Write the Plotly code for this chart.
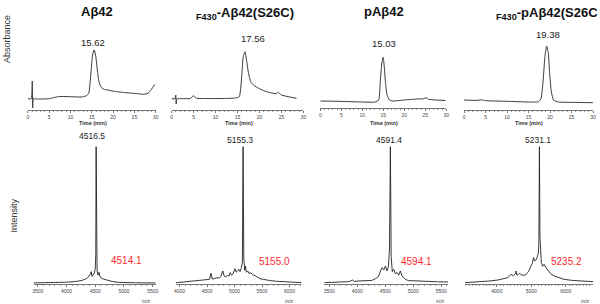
import plotly.graph_objects as go

# ---------------- HPLC data (time in min, absorbance in arbitrary units) -------------
hplc1_t = [0, 0.8, 1.05, 1.15, 1.3, 1.6, 2.5, 4, 5, 6, 7, 8, 10, 12, 13, 13.8, 14.3, 14.8, 15.2, 15.55, 15.9, 16.3, 16.7, 17.2, 18, 18.8, 20, 21, 22.5, 24.8, 26, 27.1, 28.2, 29, 29.8]
hplc1_a = [11.3, 11.3, 29, 2, 11.5, 11.2, 11, 11, 11.3, 12.3, 13.3, 13.5, 13.3, 13, 13.2, 14.5, 16.7, 36.7, 55, 60, 55, 40, 28.3, 22.7, 20.5, 20, 18.8, 18.3, 17.5, 16.7, 16.2, 15.7, 16.7, 20.7, 25.7]

hplc2_t = [0, 0.8, 0.95, 1.05, 1.2, 1.5, 3, 4.3, 5.0, 5.6, 8, 12, 14.5, 15.4, 16.0, 16.3, 16.7, 17.1, 17.5, 18.0, 18.6, 20.1, 21.6, 23.9, 24.2, 25.0, 26.9, 28.4]
hplc2_a = [11.3, 11.3, 15, 6, 11.3, 11.3, 11.4, 11.5, 14.3, 11.8, 11.5, 11.5, 12, 13.3, 36.7, 53.3, 58.3, 48.3, 36.7, 28.3, 25, 21, 18.3, 16.3, 17.7, 15, 13, 11.7]

hplc3_t = [0, 5, 10, 13, 13.9, 14.3, 14.7, 14.95, 15.2, 15.5, 15.9, 16.5, 17.3, 20, 23, 24.6, 25.2, 25.8, 27.5, 29.8]
hplc3_a = [7.3, 6.9, 6.3, 6.2, 8.3, 28.3, 46.6, 51, 43.3, 26.6, 13.3, 8.3, 7.3, 8.3, 9.3, 9.6, 10.6, 9.0, 8.3, 7.8]

hplc4_t = [0, 3, 4, 5, 10, 15, 17.3, 17.9, 18.4, 18.8, 19.2, 19.6, 19.9, 20.3, 20.8, 22, 26, 30]
hplc4_a = [10, 9.6, 10.2, 9.3, 8.7, 8, 8.3, 11.7, 30, 53.3, 64, 56.7, 36.7, 18.3, 10, 8, 7.6, 7.3]

# ---------------- MS data (m/z, relative intensity %) ----------------
ms1_mz = [3431, 3600, 3800, 4000, 4150, 4250, 4330, 4380, 4410, 4430, 4445, 4465, 4485, 4500, 4510, 4516, 4522, 4532, 4550, 4565, 4580, 4600, 4640, 4700, 4800, 4900, 5000, 5200, 5400, 5552]
ms1_int = [0.8, 0.9, 1.0, 1.3, 1.8, 2.4, 3.5, 5.0, 7.0, 9.0, 5.5, 6.5, 8.0, 11, 22, 100, 24, 10, 6.5, 8.5, 6.0, 4.5, 3.6, 2.8, 1.8, 1.2, 1.0, 0.9, 0.8, 0.8]

ms2_mz = [3928, 3960, 4100, 4200, 4258, 4330, 4400, 4438, 4500, 4546, 4571, 4595, 4640, 4679, 4720, 4751, 4787, 4811, 4845, 4871, 4900, 4919, 4945, 4967, 5009, 5030, 5050, 5076, 5100, 5125, 5142, 5155, 5168, 5185, 5200, 5215, 5240, 5265, 5290, 5330, 5380, 5420, 5460, 5520, 5580, 5660, 5760, 5900, 6000, 6120, 6216]
ms2_int = [1.0, 1.0, 1.6, 2.0, 2.2, 2.6, 2.4, 2.9, 3.3, 3.4, 7.8, 3.6, 4.0, 4.6, 4.3, 5.4, 9.5, 5.9, 5.2, 6.3, 5.8, 8.3, 6.5, 7.1, 11.2, 8.6, 9.5, 10.7, 9.0, 12.0, 16, 100, 18, 10, 13, 8.5, 9.5, 7.5, 8.3, 6.8, 5.9, 5.0, 3.9, 3.4, 2.9, 2.4, 2.0, 1.6, 1.5, 1.2, 1.0]

ms3_mz = [3411, 3600, 3800, 3853, 3912, 3950, 4030, 4120, 4207, 4260, 4326, 4380, 4414, 4443, 4473, 4503, 4530, 4555, 4575, 4591, 4605, 4625, 4650, 4680, 4710, 4740, 4768, 4800, 4827, 4870, 4915, 5000, 5092, 5200, 5328, 5450, 5565, 5624]
ms3_int = [1.0, 1.3, 1.6, 1.7, 2.9, 1.9, 2.2, 2.5, 2.9, 2.6, 3.9, 5.5, 9.5, 11.9, 10.2, 13.1, 9.5, 12.5, 25, 100, 20, 9.0, 10.7, 7.5, 8.3, 6.5, 9.5, 5.6, 4.6, 3.2, 2.5, 2.3, 2.0, 1.9, 1.7, 1.6, 1.5, 1.5]

ms4_mz = [3079, 3300, 3548, 3800, 4029, 4200, 4316, 4411, 4480, 4540, 4560, 4580, 4620, 4653, 4720, 4797, 4850, 4892, 4940, 4987, 5030, 5065, 5102, 5150, 5200, 5220, 5235, 5250, 5270, 5290, 5330, 5370, 5420, 5467, 5560, 5660, 5800, 5948, 6200, 6427, 6600, 6791]
ms4_int = [1.0, 1.3, 1.7, 2.2, 2.9, 3.6, 4.6, 7.1, 6.0, 7.5, 9.5, 6.5, 6.8, 7.8, 6.6, 6.3, 7.0, 8.3, 10.0, 13.1, 15.0, 19.2, 16.8, 18.0, 22, 30, 100, 35, 18, 15.6, 13.0, 14.3, 12.0, 10.7, 7.5, 5.9, 4.5, 3.4, 2.6, 2.2, 1.9, 1.7]

hplc_titles = ["<b>Aβ42</b>", "<b><sub>F430</sub>-Aβ42(S26C)</b>", "<b>pAβ42</b>", "<b><sub>F430</sub>-pAβ42(S26C</b>"]
hplc_peak_labels = ["15.62", "17.56", "15.03", "19.38"]
ms_peak_labels = ["4516.5", "5155.3", "4591.4", "5231.1"]
ms_calc_labels = ["4514.1", "5155.0", "4594.1", "5235.2"]

W, H = 600, 304
def px(x):
    return x / W
def py(y):
    return 1 - y / H

FONT = "Liberation Sans, Arial, sans-serif"
fig = go.Figure()

hplc_data = [(hplc1_t, hplc1_a), (hplc2_t, hplc2_a), (hplc3_t, hplc3_a), (hplc4_t, hplc4_a)]
hplc_xdom = [(26, 155), (171, 304), (321, 448), (466, 596)]
hplc_axis_y = [110, 110, 108.3, 110]

ms_data = [(ms1_mz, ms1_int), (ms2_mz, ms2_int), (ms3_mz, ms3_int), (ms4_mz, ms4_int)]
ms_xdom = [(32, 155), (175, 302), (325, 450), (467, 596)]
ms_range = [(3431, 5552), (3928, 6216), (3411, 5624), (3079, 6791)]
ms_dtick = [500, 500, 500, 1000]
MS_AXIS_Y = 284

layout = {}
for i in range(4):
    n = i + 1
    t, a = hplc_data[i]
    fig.add_trace(go.Scatter(x=t, y=a, mode="lines", xaxis=f"x{n}", yaxis=f"y{n}",
                             line=dict(color="#3a3a3a", width=1, shape="spline", smoothing=0.5),
                             showlegend=False, hoverinfo="skip"))
    ay = hplc_axis_y[i]
    layout[f"xaxis{n}"] = dict(domain=[px(hplc_xdom[i][0]), px(hplc_xdom[i][1])], range=[0, 30],
                               anchor=f"y{n}", showgrid=False, zeroline=False, showline=True,
                               linecolor="#777", linewidth=1, ticks="outside", ticklen=1.5,
                               tickcolor="#777", tickwidth=1, dtick=5, tick0=0,
                               tickfont=dict(size=5, color="#444", family=FONT),
                               minor=dict(ticks="outside", ticklen=1, dtick=1, tickcolor="#999"))
    layout[f"yaxis{n}"] = dict(domain=[py(ay), py(ay - 70)], range=[0, 70], anchor=f"x{n}", visible=False)

for i in range(4):
    n = i + 5
    mz, it = ms_data[i]
    fig.add_trace(go.Scatter(x=mz, y=it, mode="lines", xaxis=f"x{n}", yaxis=f"y{n}",
                             line=dict(color="#222", width=0.9),
                             showlegend=False, hoverinfo="skip"))
    layout[f"xaxis{n}"] = dict(domain=[px(ms_xdom[i][0]), px(ms_xdom[i][1])], range=list(ms_range[i]),
                               anchor=f"y{n}", showgrid=False, zeroline=False, showline=True,
                               linecolor="#777", linewidth=1, ticks="outside", ticklen=2,
                               tickcolor="#777", tickwidth=1, dtick=ms_dtick[i], tick0=0,
                               tickfont=dict(size=5, color="#444", family=FONT),
                               minor=dict(ticks="outside", ticklen=1, dtick=100, tickcolor="#999"))
    layout[f"yaxis{n}"] = dict(domain=[py(MS_AXIS_Y), py(MS_AXIS_Y - 140)], range=[0, 102], anchor=f"x{n}", visible=False)

ann = []
# titles
title_pos = [(96, 11, "center"), (245, 14, "center"), (385, 11, "center"), (496, 14, "left")]
for (x, y, al), txt in zip(title_pos, hplc_titles):
    ann.append(dict(x=px(x), y=py(y), xref="paper", yref="paper", text=txt, showarrow=False,
                    xanchor=al, yanchor="middle", font=dict(size=13, color="#111", family=FONT)))
# HPLC peak labels
for (x, y), txt in zip([(92, 42), (253, 39), (385, 43), (551, 35)], hplc_peak_labels):
    ann.append(dict(x=px(x), y=py(y), xref="paper", yref="paper", text=txt, showarrow=False,
                    xanchor="center", yanchor="middle", font=dict(size=9.5, color="#222", family=FONT)))
# Time (min) labels
for x in [92, 239, 385, 531]:
    ann.append(dict(x=px(x), y=py(123), xref="paper", yref="paper", text="<b>Time (min)</b>", showarrow=False,
                    xanchor="center", yanchor="middle", font=dict(size=5.5, color="#333", family=FONT)))
# MS peak labels
for (x, y), txt in zip([(91, 136), (240, 140), (390, 140), (540, 140)], ms_peak_labels):
    ann.append(dict(x=px(x), y=py(y), xref="paper", yref="paper", text=txt, showarrow=False,
                    xanchor="center", yanchor="middle", font=dict(size=8.5, color="#222", family=FONT)))
# calculated masses (red)
for (x, y), txt in zip([(126, 260), (275, 261), (418, 261), (569, 261)], ms_calc_labels):
    ann.append(dict(x=px(x), y=py(y), xref="paper", yref="paper", text=txt, showarrow=False,
                    xanchor="center", yanchor="middle", font=dict(size=10, color="#ff2a2a", family=FONT)))
# m/z labels
for x in [146, 290, 442, 588]:
    ann.append(dict(x=px(x), y=py(300.5), xref="paper", yref="paper", text="m/z", showarrow=False,
                    xanchor="center", yanchor="middle", font=dict(size=5, color="#444", family=FONT)))
# y labels
ann.append(dict(x=px(5), y=py(39), xref="paper", yref="paper", text="Absorbance", showarrow=False,
                textangle=-90, xanchor="center", yanchor="middle", font=dict(size=9, color="#333", family=FONT)))
ann.append(dict(x=px(12.5), y=py(215), xref="paper", yref="paper", text="Intensity", showarrow=False,
                textangle=-90, xanchor="center", yanchor="middle", font=dict(size=9, color="#333", family=FONT)))

fig.update_layout(width=W, height=H, margin=dict(l=0, r=0, t=0, b=0),
                  paper_bgcolor="white", plot_bgcolor="white",
                  annotations=ann, **layout)

fig.write_html("out.html", config={"displayModeBar": False},
               post_script="document.body.style.margin='0';document.body.style.padding='0';document.body.style.overflow='hidden';")
